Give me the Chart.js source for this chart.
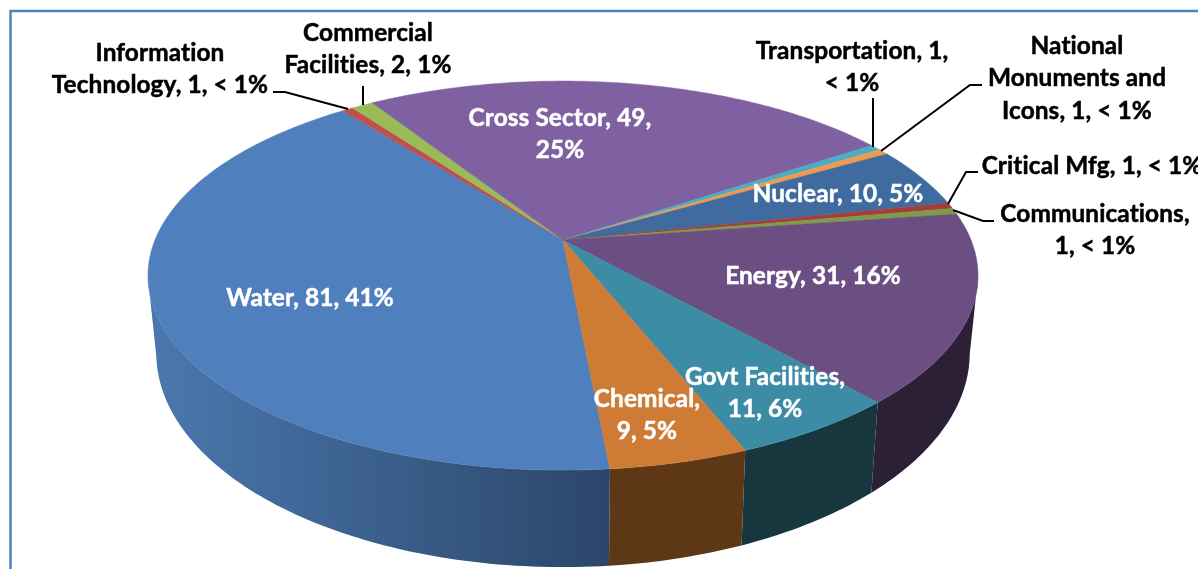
<!DOCTYPE html>
<html>
<head>
<meta charset="utf-8">
<title>Sectors</title>
<script src="https://cdn.jsdelivr.net/npm/chart.js@4"></script>
<style>
    html, body { margin: 0; padding: 0; background: #fff; overflow: hidden; }
    canvas { display: block; }
</style>
</head>
<body>
<canvas id="grafico" width="1198" height="569"></canvas>
<script>
// Datos del grafico, en sentido horario desde Water
const categories = ['Water', 'Information Technology', 'Commercial Facilities', 'Cross Sector', 'Transportation',
    'National Monuments and Icons', 'Nuclear', 'Critical Mfg', 'Communications', 'Energy', 'Govt Facilities', 'Chemical'];
const values = [81, 1, 2, 49, 1, 1, 10, 1, 1, 31, 11, 9];
const labelLines = [
    ['Water, 81, 41%'],
    ['Information', 'Technology, 1, < 1%'],
    ['Commercial', 'Facilities, 2, 1%'],
    ['Cross Sector, 49,', '25%'],
    ['Transportation, 1,', '< 1%'],
    ['National', 'Monuments and', 'Icons, 1, < 1%'],
    ['Nuclear, 10, 5%'],
    ['Critical Mfg, 1, < 1%'],
    ['Communications,', '1, < 1%'],
    ['Energy, 31, 16%'],
    ['Govt Facilities,', '11, 6%'],
    ['Chemical,', '9, 5%']
];

// Colores de la cara superior y de la pared lateral (izquierda, derecha)
const topColors = ['#4f7fbc', '#c0504d', '#9bbb59', '#7f61a1', '#4bacc6', '#ee9a50', '#3f6b9f', '#a23f3c', '#7f9a48', '#6b4f83', '#3d8ca6', '#cd7b35'];
const wallLeft = ['#4a78ae', '#8a3a38', '#6f8640', '#5a4573', '#357a8d', '#a86c38', '#2d4c71', '#6f2b29', '#586b32', '#33263f', '#1b3f49', '#673b18'];
const wallRight = ['#2b4669', '#8a3a38', '#6f8640', '#5a4573', '#357a8d', '#a86c38', '#2d4c71', '#6f2b29', '#586b32', '#2c2037', '#18363e', '#5d3716'];

// Posicion de cada etiqueta: centro x, primera linea y, color
const labelX = [310, 160, 368, 560, 852, 1077, 838, 1092, 1095, 813, 765, 647];
const labelY = [298, 53, 33, 118, 51, 46, 194, 166, 214, 276, 377, 399];
const labelColor = ['#fff', '#000', '#000', '#fff', '#000', '#000', '#fff', '#000', '#000', '#fff', '#fff', '#fff'];
const lineHeight = 32.5;

// Lineas guia de las etiquetas exteriores
const leaderLines = [
    [[273, 92], [285, 92], [348, 109]],
    [[363, 86], [363, 105]],
    [[873, 98], [873, 147]],
    [[982, 85], [970, 85], [881, 151]],
    [[978, 172], [966, 172], [948, 204]],
    [[953, 210], [983, 221], [994, 221]]
];

// Proyeccion en perspectiva del disco
const centerX = 563, centerY = 240;
const radioX = 408, radioY = 188, persp = 0.183;

function puntoSuperior(a) {
    const w = 1 - persp * Math.sin(a);
    return [centerX + radioX * Math.cos(a) / w, centerY + radioY * Math.sin(a) / w];
}

function puntoInferior(a) {
    const p = puntoSuperior(a);
    return [centerX + (p[0] - centerX) * 0.98, centerY + 74 + (p[1] - centerY) * 1.1];
}

function angulosDe(arc) {
    const lista = [];
    const paso = Math.PI / 180;
    for (let a = arc.startAngle; a < arc.endAngle; a += paso) {
        lista.push(a);
    }
    lista.push(arc.endAngle);
    return lista;
}

function dibujarParedes(ctx, arcs) {
    arcs.forEach((arc, i) => {
        // Solo la parte delantera, desde donde el borde es tangente a la vista
        const frente = angulosDe(arc).filter(a => Math.sin(a) > persp);
        if (frente.length < 2) return;
        const grad = ctx.createLinearGradient(150, 0, 610, 0);
        grad.addColorStop(0, wallLeft[i]);
        grad.addColorStop(1, wallRight[i]);
        ctx.fillStyle = grad;
        ctx.beginPath();
        frente.forEach((a, n) => {
            const p = puntoSuperior(a);
            if (n === 0) ctx.moveTo(p[0], p[1]);
            else ctx.lineTo(p[0], p[1]);
        });
        frente.slice().reverse().forEach(a => {
            const p = puntoInferior(a);
            ctx.lineTo(p[0], p[1]);
        });
        ctx.closePath();
        ctx.fill();
    });
}

function dibujarCaras(ctx, arcs) {
    arcs.forEach((arc, i) => {
        ctx.fillStyle = topColors[i];
        ctx.strokeStyle = topColors[i];
        ctx.lineWidth = 0.5;
        ctx.beginPath();
        ctx.moveTo(centerX, centerY);
        angulosDe(arc).forEach(a => {
            const p = puntoSuperior(a);
            ctx.lineTo(p[0], p[1]);
        });
        ctx.closePath();
        ctx.fill();
        ctx.stroke();
    });
}

function dibujarEtiquetas(ctx) {
    ctx.strokeStyle = '#000';
    ctx.lineWidth = 2;
    leaderLines.forEach(linea => {
        ctx.beginPath();
        linea.forEach((p, n) => {
            if (n === 0) ctx.moveTo(p[0], p[1]);
            else ctx.lineTo(p[0], p[1]);
        });
        ctx.stroke();
    });

    ctx.font = 'bold 24.4px Lato';
    ctx.letterSpacing = '0.1px';
    ctx.textAlign = 'center';
    ctx.textBaseline = 'middle';
    ctx.lineWidth = 0.5;
    labelLines.forEach((lineas, i) => {
        ctx.fillStyle = labelColor[i];
        ctx.strokeStyle = labelColor[i];
        lineas.forEach((texto, n) => {
            ctx.fillText(texto, labelX[i], labelY[i] + n * lineHeight);
            ctx.strokeText(texto, labelX[i], labelY[i] + n * lineHeight);
        });
    });
}

// Marco azul, abierto por la derecha y por abajo
function dibujarMarco(ctx) {
    ctx.strokeStyle = '#4f81bd';
    ctx.lineWidth = 2.5;
    ctx.beginPath();
    ctx.moveTo(10.5, 569);
    ctx.lineTo(10.5, 11);
    ctx.lineTo(1198, 11);
    ctx.stroke();
}

// Plugin que dibuja los arcos del grafico en 3D usando los angulos de Chart.js
const pie3d = {
    id: 'pie3d',
    beforeDatasetsDraw(chart) {
        const ctx = chart.ctx;
        const arcs = chart.getDatasetMeta(0).data;
        ctx.save();
        dibujarMarco(ctx);
        dibujarParedes(ctx, arcs);
        dibujarCaras(ctx, arcs);
        dibujarEtiquetas(ctx);
        ctx.restore();
        return false;
    }
};

const grafico = new Chart(document.getElementById('grafico').getContext('2d'), {
    type: 'pie',
    data: {
        labels: categories,
        datasets: [{
            label: 'Cantidad',
            data: values,
            backgroundColor: topColors,
            borderWidth: 0
        }]
    },
    plugins: [pie3d],
    options: {
        responsive: false,
        animation: false,
        rotation: 174.6,
        plugins: {
            legend: { display: false },
            tooltip: { enabled: false }
        }
    }
});
</script>
</body>
</html>
